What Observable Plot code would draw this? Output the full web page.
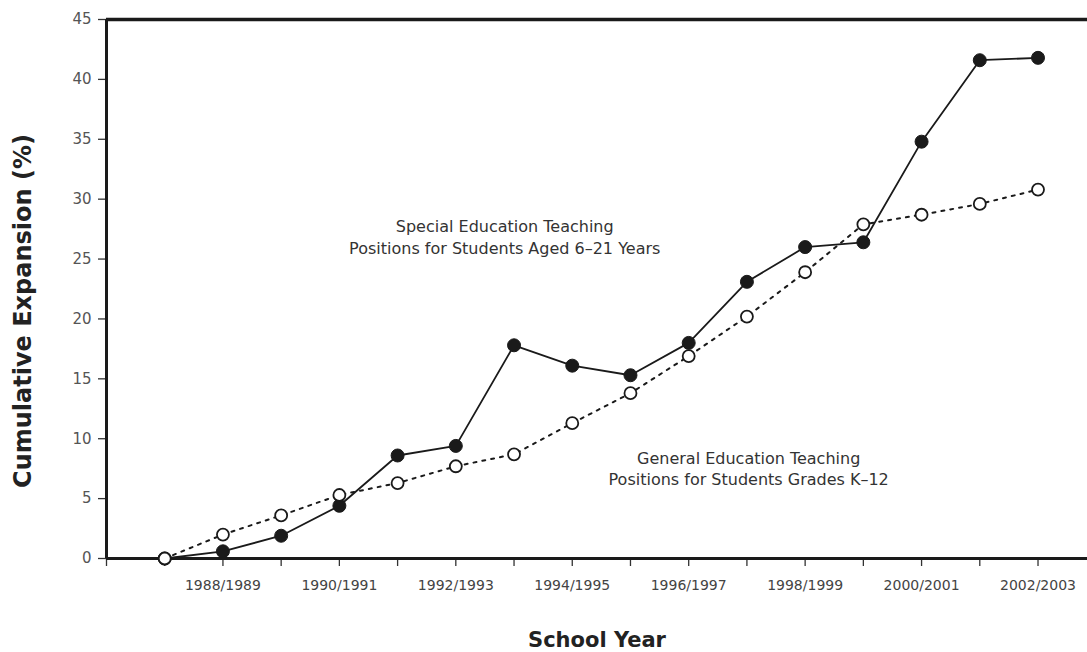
<!DOCTYPE html>
<html>
<head>
<meta charset="utf-8">
<script src="https://cdn.jsdelivr.net/npm/d3@7"></script>
<script src="https://cdn.jsdelivr.net/npm/@observablehq/plot@0.6"></script>
<style>
  html, body { margin: 0; padding: 0; background: #fff; }
  #chart svg { display: block; }
  g[aria-label="y-axis tick label"] text, g[aria-label="y-axis tick label"] { fill: #555; }
  g[aria-label="x-axis tick label"] text, g[aria-label="x-axis tick label"] { fill: #444; }
</style>
</head>
<body>
<div id="chart"></div>
<script>
// School years (x categories, index 0..15)
const years = ["1987/1988","1988/1989","1989/1990","1990/1991","1991/1992","1992/1993","1993/1994","1994/1995",
               "1995/1996","1996/1997","1997/1998","1998/1999","1999/2000","2000/2001","2001/2002","2002/2003"];
// Cumulative expansion (%) — Special education teaching positions (filled markers, solid line)
const special = [0, 0.6, 1.9, 4.4, 8.6, 9.4, 17.8, 16.1, 15.3, 18.0, 23.1, 26.0, 26.4, 34.8, 41.6, 41.8];
// Cumulative expansion (%) — General education teaching positions (open markers, dashed line)
const general = [0, 2.0, 3.6, 5.3, 6.3, 7.7, 8.7, 11.3, 13.8, 16.9, 20.2, 23.9, 27.9, 28.7, 29.6, 30.8];
// Y tick values
const yTicks = [0, 5, 10, 15, 20, 25, 30, 35, 40, 45];
// Annotation labels (anchored at school-year index / percent)
const annotations = [
  {i: 5.84, v: 26.9, text: "Special Education Teaching\nPositions for Students Aged 6–21 Years"},
  {i: 10.03, v: 7.6, text: "General Education Teaching\nPositions for Students Grades K–12"}
];
const xTitle = "School Year";
const yTitle = "Cumulative Expansion (%)";

const specialData = special.map((v, i) => ({i, v}));
const generalData = general.map((v, i) => ({i, v}));
const xTickIdx = d3.range(-1, years.length);

const ink = "#1a1a1a";

const chart = Plot.plot({
  width: 1087,
  height: 652,
  marginLeft: 106,
  marginTop: 19,
  marginRight: 0,
  marginBottom: 94,
  style: {fontFamily: "'DejaVu Sans', sans-serif", background: "#fff", color: ink},
  x: {type: "linear", domain: [-1, 15.85], axis: null},
  y: {type: "linear", domain: [0, 45], axis: null},
  marks: [
    Plot.axisY(yTicks, {tickSize: 8, tickPadding: 7, fontSize: 15, stroke: "#333", strokeWidth: 1.3, label: null}),
    Plot.axisX(xTickIdx, {
      tickSize: 8, tickPadding: 14, fontSize: 14, stroke: "#333", strokeWidth: 1.3, label: null,
      tickFormat: d => (d >= 0 && d % 2 === 1) ? years[d] : ""
    }),
    // frame: left, bottom, top
    Plot.ruleX([-1], {stroke: ink, strokeWidth: 3}),
    Plot.ruleY([0], {stroke: ink, strokeWidth: 3}),
    Plot.ruleY([45], {stroke: ink, strokeWidth: 3.5}),
    // lines
    Plot.line(generalData, {x: "i", y: "v", stroke: ink, strokeWidth: 2, strokeDasharray: "3,6"}),
    Plot.line(specialData, {x: "i", y: "v", stroke: ink, strokeWidth: 1.8}),
    Plot.dot(specialData, {x: "i", y: "v", r: 6.5, fill: ink, stroke: ink, strokeWidth: 1}),
    Plot.dot(generalData, {x: "i", y: "v", r: 6, fill: "#fff", stroke: ink, strokeWidth: 1.8}),
    // annotations
    Plot.text(annotations, {x: "i", y: "v", text: "text", fontSize: 16, lineHeight: 1.33, fill: "#333", textAnchor: "middle"}),
    // axis titles
    Plot.text([xTitle], {frameAnchor: "bottom", dy: 82, fontSize: 21, fontWeight: "bold", fill: "#222", lineAnchor: "middle"}),
    Plot.text([yTitle], {frameAnchor: "left", textAnchor: "middle", lineAnchor: "middle", dx: -83, dy: 22, rotate: -90, fontSize: 24, fontWeight: "bold", fill: "#222"})
  ]
});
document.getElementById("chart").appendChild(chart);
</script>
</body>
</html>
